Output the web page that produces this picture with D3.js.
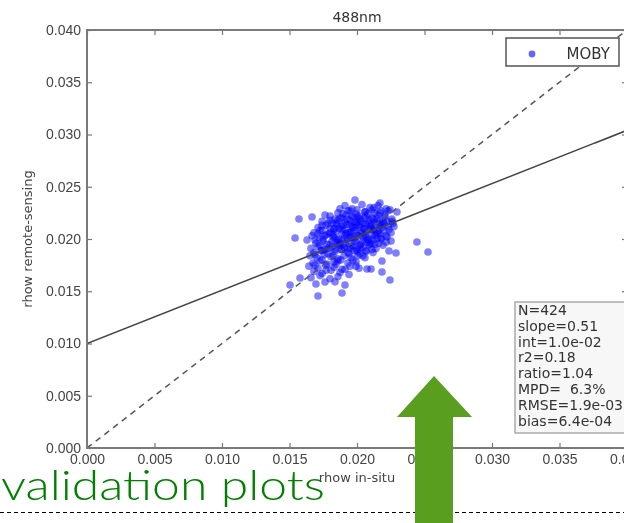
<!DOCTYPE html>
<html>
<head>
<meta charset="utf-8">
<script src="https://cdn.jsdelivr.net/npm/d3@7"></script>
<style>
  body { margin: 0; background: #fff; }
  svg { display: block; }
</style>
</head>
<body>
<div id="chart"></div>
<script>
var svgWidth = 624;
var svgHeight = 523;

// axes ticks
var xTicks = [0, 0.005, 0.010, 0.015, 0.020, 0.025, 0.030, 0.035, 0.040];
var yTicks = [0, 0.005, 0.010, 0.015, 0.020, 0.025, 0.030, 0.035, 0.040];

// regression stats shown in the box
var fitSlope = 0.51;
var fitIntercept = 0.010;
var statLines = ["N=424", "slope=0.51", "int=1.0e-02", "r2=0.18", "ratio=1.04",
                 "MPD=  6.3%", "RMSE=1.9e-03", "bias=6.4e-04"];

// MOBY matchups [rhow in-situ, rhow remote-sensing]
var mobyPoints = [
  [0.01911,0.0232],[0.01963,0.0229],[0.02037,0.0233],[0.02096,0.0230],[0.02156,0.0232],[0.02215,0.0229],
  [0.01859,0.0225],[0.01933,0.0227],[0.01993,0.0224],[0.02059,0.0226],[0.02111,0.0228],[0.0217,0.0225],[0.0223,0.0227],
  [0.018,0.0222],[0.01874,0.0220],[0.01919,0.0223],[0.0197,0.0221],[0.02022,0.0219],[0.02067,0.0222],[0.02111,0.0220],[0.02156,0.0223],[0.02207,0.0221],[0.02259,0.0219],
  [0.01741,0.0217],[0.01815,0.0215],[0.01859,0.0218],[0.01911,0.0216],[0.01948,0.0214],[0.02,0.0217],[0.02044,0.0215],[0.02089,0.0218],[0.02133,0.0216],[0.02178,0.0214],[0.02222,0.0217],[0.02267,0.0215],
  [0.01711,0.0211],[0.0177,0.0213],[0.0183,0.0210],[0.01881,0.0212],[0.01926,0.0214],[0.0197,0.0211],[0.02015,0.0213],[0.02052,0.0210],[0.02096,0.0212],[0.02141,0.0214],[0.02185,0.0211],[0.0223,0.0212],
  [0.01681,0.0206],[0.01741,0.0208],[0.01793,0.0205],[0.01844,0.0207],[0.01889,0.0209],[0.01933,0.0206],[0.01978,0.0208],[0.02022,0.0205],[0.02067,0.0207],[0.02111,0.0209],[0.02156,0.0206],[0.022,0.0208],[0.02252,0.0206],
  [0.01667,0.0203],[0.01719,0.0201],[0.0177,0.0204],[0.01822,0.0202],[0.01867,0.0200],[0.01911,0.0203],[0.01956,0.0201],[0.02,0.0204],[0.02044,0.0202],[0.02089,0.0200],[0.02133,0.0203],[0.02178,0.0201],[0.02222,0.0202],
  [0.01696,0.0196],[0.01748,0.0198],[0.018,0.0195],[0.01852,0.0197],[0.01896,0.0199],[0.01941,0.0196],[0.01985,0.0198],[0.0203,0.0195],[0.02074,0.0197],[0.02119,0.0199],[0.02163,0.0196],[0.02215,0.0197],
  [0.01659,0.0191],[0.01711,0.0193],[0.01763,0.0190],[0.01815,0.0192],[0.01867,0.0194],[0.01911,0.0191],[0.01956,0.0193],[0.02,0.0190],[0.02044,0.0192],[0.02089,0.0194],[0.02141,0.0191],
  [0.01681,0.0187],[0.01733,0.0189],[0.01785,0.0186],[0.01837,0.0188],[0.01889,0.0190],[0.01933,0.0187],[0.01978,0.0189],[0.02022,0.0186],[0.02067,0.0188],[0.02119,0.0187],
  [0.01652,0.0184],[0.01704,0.0182],[0.01756,0.0185],[0.01807,0.0183],[0.01859,0.0181],[0.01904,0.0184],[0.01956,0.0182],[0.02007,0.0184],[0.02059,0.0182],
  [0.01674,0.0177],[0.01726,0.0179],[0.01778,0.0176],[0.0183,0.0178],[0.01881,0.0180],[0.01933,0.0177],[0.01993,0.0178],
  [0.01644,0.0174],[0.01711,0.0172],[0.0177,0.0175],[0.0183,0.0173],[0.01889,0.0171],[0.01948,0.0174],[0.02015,0.0172],
  [0.01681,0.0169],[0.01741,0.0167],[0.01807,0.0170],[0.01874,0.0168],[0.01941,0.0166],
  [0.01659,0.0163],[0.01726,0.0165],[0.018,0.0162],[0.01859,0.0164],
  [0.01696,0.0157],[0.01837,0.0159],[0.01911,0.0156],
  [0.01896,0.0224],[0.02015,0.0222],[0.02133,0.0225],
  [0.01837,0.0219],[0.01948,0.0218],[0.02059,0.0220],[0.0217,0.0218],
  [0.01785,0.0215],[0.01896,0.0213],[0.01993,0.0215],[0.02104,0.0213],[0.022,0.0215],
  [0.018,0.0210],[0.01911,0.0209],[0.02022,0.0211],[0.02126,0.0209],
  [0.01711,0.0205],[0.01822,0.0204],[0.01948,0.0206],[0.02059,0.0204],[0.0217,0.0205],
  [0.01748,0.0200],[0.01859,0.0199],[0.01978,0.0201],[0.02081,0.0199],
  [0.01778,0.0195],[0.01911,0.0196],[0.02022,0.0194],[0.02133,0.0195],
  [0.01837,0.0190],[0.01948,0.0191],[0.02067,0.0189],
  [0.01874,0.0229],[0.02,0.0228],[0.02126,0.0230],[0.02244,0.0228],
  [0.01763,0.0223],[0.01963,0.0222],[0.02081,0.0224],[0.02207,0.0223],
  [0.018,0.0218],[0.01926,0.0219],[0.0203,0.0217],[0.02148,0.0219],[0.02259,0.0217],
  [0.01741,0.0213],[0.01852,0.0214],[0.01963,0.0212],[0.02067,0.0214],[0.0217,0.0213],[0.02274,0.0212],
  [0.01726,0.0208],[0.0183,0.0209],[0.01956,0.0207],[0.02052,0.0210],[0.02156,0.0208],[0.02237,0.0209],
  [0.01763,0.0203],[0.01889,0.0205],[0.02007,0.0203],[0.02111,0.0204],[0.02215,0.0203],
  [0.01689,0.0199],[0.01815,0.0198],[0.01926,0.0200],[0.02044,0.0198],[0.02148,0.0200],[0.02252,0.0198],
  [0.01726,0.0194],[0.01859,0.0195],[0.0197,0.0193],[0.02096,0.0195],[0.02193,0.0194],
  [0.01741,0.0189],[0.01881,0.0190],[0.02,0.0188],[0.02111,0.0190],
  [0.01689,0.0185],[0.01822,0.0184],[0.01941,0.0186],[0.02044,0.0184],
  [0.01741,0.0180],[0.01859,0.0179],[0.0197,0.0180],
  [0.01689,0.0175],[0.01844,0.0176],[0.01993,0.0174],
  [0.0177,0.0170],[0.01911,0.0171],
  [0.01948,0.0227],[0.02059,0.0226],[0.02178,0.0227],
  [0.01889,0.0220],[0.02007,0.0221],[0.02119,0.0219],
  [0.01844,0.0215],[0.01978,0.0216],[0.02089,0.0215],[0.02193,0.0216],
  [0.01867,0.0210],[0.01993,0.0211],[0.02104,0.0210],
  [0.018,0.0206],[0.01919,0.0205],[0.02037,0.0206],[0.02141,0.0205],
  [0.01837,0.0201],[0.01948,0.0202],[0.02067,0.0201],[0.02178,0.0200],
  [0.01874,0.0196],[0.01993,0.0197],[0.02104,0.0196],
  [0.01785,0.0191],[0.01904,0.0192],[0.02022,0.0191],
  // scattered ones around the cloud
  [0.02444,0.01971],[0.02526,0.01876],[0.02237,0.01885],[0.02289,0.01866],[0.02185,0.01789],
  [0.02074,0.01713],[0.02104,0.01713],[0.02185,0.01684],[0.02244,0.01608],[0.01711,0.01455],
  [0.01889,0.01483],[0.0157,0.02191],[0.01667,0.02211],[0.01541,0.0201],[0.0163,0.0199],
  [0.01504,0.0156],[0.01578,0.01627],[0.01763,0.01589],[0.01985,0.02373],[0.0217,0.02344],
  [0.02296,0.02258]
];

var margin = { top: 30, left: 87 };
var plotW = 540;
var plotH = 418;

var svg = d3.select("#chart")
  .append("svg")
  .attr("width", svgWidth)
  .attr("height", svgHeight)
  .style("font-family", "DejaVu Sans, sans-serif");

var defs = svg.append("defs");
defs.append("filter").attr("id", "soft")
  .append("feGaussianBlur").attr("stdDeviation", 0.55);
defs.append("clipPath").attr("id", "plotclip")
  .append("rect").attr("width", plotW).attr("height", plotH);

var chartGroup = svg.append("g")
  .attr("transform", `translate(${margin.left}, ${margin.top})`)
  .attr("filter", "url(#soft)");

var xScale = d3.scaleLinear().domain([0, 0.040]).range([0, plotW]);
var yScale = d3.scaleLinear().domain([0, 0.040]).range([plotH, 0]);

var fmt = d3.format(".3f");

// axes, ticks pointing inward like matplotlib
var xAxis = chartGroup.append("g")
  .attr("transform", `translate(0, ${plotH})`)
  .call(d3.axisBottom(xScale).tickValues(xTicks).tickFormat(fmt).tickSizeInner(-5).tickSizeOuter(0).tickPadding(6));
var yAxis = chartGroup.append("g")
  .call(d3.axisLeft(yScale).tickValues(yTicks).tickFormat(fmt).tickSizeInner(-5).tickSizeOuter(0).tickPadding(6));
var topAxis = chartGroup.append("g")
  .call(d3.axisTop(xScale).tickValues(xTicks).tickFormat("").tickSizeInner(-5).tickSizeOuter(0));
var rightAxis = chartGroup.append("g")
  .attr("transform", `translate(${plotW}, 0)`)
  .call(d3.axisRight(yScale).tickValues(yTicks).tickFormat("").tickSizeInner(-5).tickSizeOuter(0));

[xAxis, yAxis, topAxis, rightAxis].forEach(function(a) {
  a.select(".domain").remove();
  a.selectAll("line").attr("stroke", "#777").attr("stroke-width", 1.2);
  a.selectAll("text").attr("fill", "#444").style("font-size", "14px");
});

// points
var plot = chartGroup.append("g").attr("clip-path", "url(#plotclip)");
plot.selectAll("circle")
  .data(mobyPoints)
  .enter()
  .append("circle")
  .attr("cx", d => xScale(d[0]))
  .attr("cy", d => yScale(d[1]))
  .attr("r", 3.8)
  .attr("fill", "#0000ff")
  .attr("opacity", 0.5);

// 1:1 line and regression line
plot.append("line")
  .attr("x1", xScale(0)).attr("y1", yScale(0))
  .attr("x2", xScale(0.040)).attr("y2", yScale(0.040))
  .attr("stroke", "#555").attr("stroke-width", 1.5)
  .attr("stroke-dasharray", "6,5");
plot.append("line")
  .attr("x1", xScale(0)).attr("y1", yScale(fitIntercept))
  .attr("x2", xScale(0.040)).attr("y2", yScale(fitIntercept + fitSlope * 0.040))
  .attr("stroke", "#444").attr("stroke-width", 1.5);

// frame
chartGroup.append("rect")
  .attr("width", plotW).attr("height", plotH)
  .attr("fill", "none").attr("stroke", "#7a7a7a").attr("stroke-width", 2);

// title and axis labels
chartGroup.append("text")
  .attr("x", plotW / 2).attr("y", -8)
  .attr("text-anchor", "middle")
  .attr("fill", "#333").style("font-size", "14px")
  .text("488nm");
chartGroup.append("text")
  .attr("x", plotW / 2 + 0).attr("y", plotH + 34)
  .attr("text-anchor", "middle")
  .attr("fill", "#444").style("font-size", "13px")
  .text("rhow in-situ");
chartGroup.append("text")
  .attr("transform", `translate(-55, ${plotH / 2}) rotate(-90)`)
  .attr("text-anchor", "middle")
  .attr("fill", "#444").style("font-size", "13px")
  .text("rhow remote-sensing");

// legend
var legend = chartGroup.append("g").attr("transform", "translate(419, 8)");
legend.append("rect")
  .attr("width", 113).attr("height", 28)
  .attr("fill", "#fff").attr("stroke", "#555").attr("stroke-width", 1.5);
legend.append("circle")
  .attr("cx", 26).attr("cy", 16).attr("r", 3.4)
  .attr("fill", "#0000ff").attr("opacity", 0.6);
legend.append("text")
  .attr("x", 104).attr("y", 21)
  .attr("text-anchor", "end")
  .attr("fill", "#333").style("font-size", "15px")
  .text("MOBY");

// stats box
var stats = chartGroup.append("g").attr("transform", "translate(428, 272)");
stats.append("rect")
  .attr("width", 130).attr("height", 131)
  .attr("fill", "#f7f7f7").attr("stroke", "#aaa").attr("stroke-width", 1.5);
stats.selectAll("text")
  .data(statLines)
  .enter()
  .append("text")
  .attr("x", 3)
  .attr("y", (d, i) => 13 + i * 15.8)
  .attr("fill", "#333")
  .style("font-size", "14px")
  .style("white-space", "pre")
  .text(d => d);

// slide overlay: title, dashed rule, arrow
svg.append("line")
  .attr("x1", 0).attr("x2", svgWidth)
  .attr("y1", 512.5).attr("y2", 512.5)
  .attr("stroke", "#000").attr("stroke-width", 1)
  .attr("stroke-dasharray", "4,3");
svg.append("text")
  .attr("x", 1).attr("y", 500)
  .attr("fill", "#008000")
  .style("font-family", "Lato, 'Open Sans', sans-serif")
  .style("font-weight", 300)
  .style("font-size", "42px")
  .attr("textLength", 324)
  .attr("lengthAdjust", "spacingAndGlyphs")
  .text("validation plots");
svg.append("path")
  .attr("d", "M434,376 L472,417 L453,417 L453,523 L415,523 L415,417 L397,417 Z")
  .attr("fill", "#5a9e1f");
</script>
</body>
</html>
